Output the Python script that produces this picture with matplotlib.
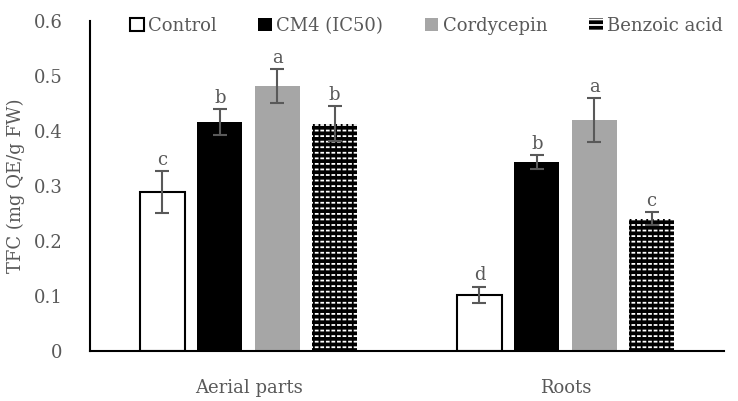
import matplotlib
matplotlib.use('Agg')
import numpy as np
import matplotlib.pyplot as plt

plt.rcParams['font.family'] = 'DejaVu Serif'
plt.rcParams['hatch.linewidth'] = 1.3

# data
groups = ['Aerial parts', 'Roots']
treatments = ['Control', 'CM4 (IC50)', 'Cordycepin', 'Benzoic acid']
values = [[0.289, 0.102],
          [0.416, 0.343],
          [0.482, 0.420],
          [0.413, 0.240]]
errors = [[0.038, 0.015],
          [0.024, 0.013],
          [0.031, 0.040],
          [0.032, 0.012]]
letters = [['c', 'd'], ['b', 'b'], ['a', 'a'], ['b', 'c']]

txt = '#595959'
fs = 13
fig = plt.figure(figsize=(7.38, 4.01), dpi=100)
ax = fig.add_axes([0.122, 0.125, 0.859, 0.823])

x = np.arange(len(groups))
w = 0.142
step = 0.181
styles = [dict(color='white', edgecolor='black', linewidth=1.5),
          dict(color='black', edgecolor='black', linewidth=0),
          dict(color='#a6a6a6', edgecolor='#a6a6a6', linewidth=0),
          dict(facecolor='black', edgecolor='white', linewidth=0, hatch='---')]

handles = []
for i in range(4):
    pos = x + (i - 1.5) * step
    b = ax.bar(pos, values[i], w, label=treatments[i], **styles[i])
    handles.append(b)
    if i == 3:
        # break the white lines into dashes
        ax.bar(pos, values[i], w, facecolor='none', edgecolor='black',
               linewidth=0, hatch='|||')
    ax.errorbar(pos, values[i], yerr=errors[i], fmt='none', ecolor=txt,
                elinewidth=1.5, capsize=5, capthick=1.5)
    for j in range(len(groups)):
        ax.text(pos[j], values[i][j] + errors[i][j] + 0.004, letters[i][j],
                ha='center', va='bottom', color=txt, fontsize=fs)

ax.set_xlim(-0.5, 1.5)
ax.set_ylim(0, 0.6)
ax.set_yticks(np.arange(0, 0.61, 0.1))
ax.set_yticklabels(['0', '0.1', '0.2', '0.3', '0.4', '0.5', '0.6'])
ax.set_xticks(x)
ax.set_xticklabels(groups)
ax.tick_params(length=0, labelsize=fs, colors=txt)
ax.tick_params(axis='x', pad=20)
ax.tick_params(axis='y', pad=20)
for s in ['top', 'right']:
    ax.spines[s].set_visible(False)
ax.spines['left'].set_linewidth(1.5)
ax.spines['bottom'].set_linewidth(1.5)
ax.set_ylabel('TFC (mg QE/g FW)', color=txt, fontsize=fs, labelpad=6)

fig.legend(handles=handles, loc='center', bbox_to_anchor=(0.578, 0.935), ncol=4,
           frameon=False, fontsize=fs, labelcolor=txt, handlelength=0.75,
           handleheight=0.75, handletextpad=0.25, columnspacing=2.3)

fig.savefig('out.png', dpi=100)
